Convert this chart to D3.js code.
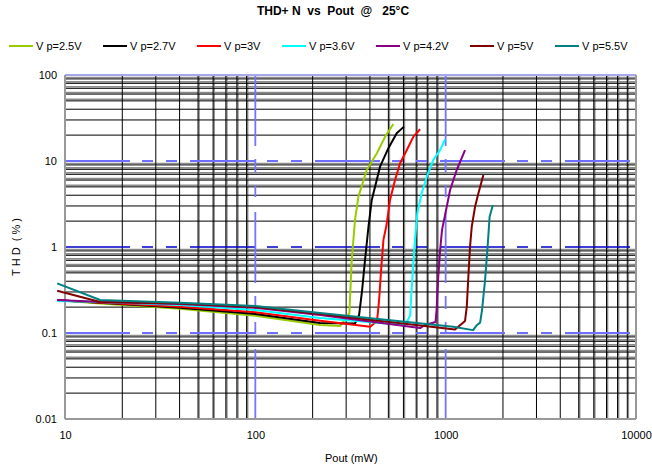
<!DOCTYPE html>
<html>
<head>
<meta charset="utf-8">
<script src="https://cdn.jsdelivr.net/npm/d3@7"></script>
<style>
  body { margin: 0; background: #fff; }
  text { font-family: "Liberation Sans", Arial, sans-serif; }
</style>
</head>
<body>
<svg id="chart" width="652" height="469"></svg>
<script>
// legend labels + colours
var labels = ['V p=2.5V', 'V p=2.7V', 'V p=3V', 'V p=3.6V', 'V p=4.2V', 'V p=5V', 'V p=5.5V'];
var colors = ['#99cc00', '#000000', '#ff0000', '#00ffff', '#880088', '#800000', '#008080'];

var xTicks = [10, 100, 1000, 10000];
var yTicks = [0.01, 0.1, 1, 10, 100];

// Pout (mW) / THD (%)
var pout25 = [9.1, 15.3, 40.2, 100, 219, 279, 312, 321, 334, 348, 385, 435, 481, 531];
var thd25  = [0.24, 0.22, 0.192, 0.159, 0.124, 0.121, 0.169, 0.706, 2.06, 3.85, 7.86, 12.3, 19.2, 26.9];

var pout27 = [9.1, 15.3, 40.2, 100, 219, 334, 351, 364, 377, 393, 409, 452, 500, 553, 604];
var thd27  = [0.24, 0.225, 0.197, 0.166, 0.131, 0.129, 0.162, 0.316, 0.706, 1.72, 3.52, 8.59, 14.1, 21.0, 25.1];

var pout30 = [9.1, 15.3, 40.2, 100, 219, 401, 436, 447, 458, 471, 489, 510, 542, 576, 625, 677, 734];
var thd30  = [0.24, 0.227, 0.202, 0.174, 0.139, 0.118, 0.138, 0.242, 0.54, 1.21, 1.8, 3.52, 6.01, 9.4, 13.4, 19.2, 23.4];

var pout36 = [9.1, 15.3, 40.2, 100, 219, 612, 650, 664, 678, 690, 710, 748, 796, 861, 935, 993];
var thd36  = [0.235, 0.229, 0.212, 0.185, 0.149, 0.124, 0.158, 0.345, 0.706, 1.21, 2.47, 4.21, 6.57, 10.3, 13.4, 17.9];

var pout42 = [9.1, 15.3, 40.2, 100, 219, 734, 780, 885, 896, 912, 935, 957, 993, 1055, 1143, 1264];
var thd42  = [0.242, 0.229, 0.217, 0.197, 0.162, 0.114, 0.124, 0.134, 0.185, 0.414, 0.92, 1.58, 2.36, 4.6, 7.86, 13.4];

var pout50 = [9.1, 15.3, 40.2, 100, 219, 1120, 1264, 1291, 1316, 1343, 1371, 1427, 1486, 1578];
var thd50  = [0.31, 0.229, 0.22, 0.2, 0.166, 0.11, 0.138, 0.202, 0.452, 1.01, 1.72, 2.94, 4.21, 6.88];

var pout55 = [9.1, 15.3, 40.2, 100, 219, 1094, 1393, 1462, 1517, 1553, 1611, 1656, 1702, 1770];
var thd55  = [0.378, 0.242, 0.225, 0.206, 0.171, 0.118, 0.108, 0.124, 0.132, 0.185, 0.414, 0.92, 2.25, 3.08];

var pouts = [pout25, pout27, pout30, pout36, pout42, pout50, pout55];
var thds  = [thd25, thd27, thd30, thd36, thd42, thd50, thd55];

var svg = d3.select('#chart');
svg.append('rect').attr('width', 652).attr('height', 469).attr('fill', '#fff');

var x = d3.scaleLog().domain([10, 10000]).range([65, 636]);
var y = d3.scaleLog().domain([0.01, 100]).range([419, 75]);

// minor grid values (2..9 of every decade)
var minorX = [], minorY = [];
[10, 100, 1000].forEach(function (d) {
  for (var k = 2; k <= 9; k++) minorX.push(d * k);
});
[0.01, 0.1, 1, 10].forEach(function (d) {
  for (var k = 2; k <= 9; k++) minorY.push(+(d * k).toPrecision(3));
});
var digit = function (v) { return Math.round(v / Math.pow(10, Math.floor(Math.log10(v) + 1e-9))); };

var grid = svg.append('g');
// grey heavier lines for 5..9
grid.selectAll('.gv').data(minorX.filter(function (d) { return digit(d) >= 5; }))
  .enter().append('line')
  .attr('x1', function (d) { return x(d) + 1; }).attr('x2', function (d) { return x(d) + 1; })
  .attr('y1', y(100)).attr('y2', y(0.01))
  .attr('stroke', '#8c8c8c').attr('stroke-width', 1.6);
grid.selectAll('.gh').data(minorY.filter(function (d) { return digit(d) >= 5; }))
  .enter().append('line')
  .attr('x1', x(10)).attr('x2', x(10000))
  .attr('y1', function (d) { return y(d) - 1.5; }).attr('y2', function (d) { return y(d) - 1.5; })
  .attr('stroke', '#8c8c8c').attr('stroke-width', 1.6);
// thin black lines
grid.selectAll('.bv').data(minorX).enter().append('line')
  .attr('x1', function (d) { return x(d); }).attr('x2', function (d) { return x(d); })
  .attr('y1', y(100)).attr('y2', y(0.01))
  .attr('stroke', '#000').attr('stroke-width', 1);
grid.selectAll('.bh').data(minorY).enter().append('line')
  .attr('x1', x(10)).attr('x2', x(10000))
  .attr('y1', function (d) { return y(d); }).attr('y2', function (d) { return y(d); })
  .attr('stroke', '#000').attr('stroke-width', 1);

// decade lines, blue dashed
grid.selectAll('.mh').data([0.1, 1, 10]).enter().append('line')
  .attr('x1', x(10)).attr('x2', x(10000))
  .attr('y1', function (d) { return y(d); }).attr('y2', function (d) { return y(d); })
  .attr('stroke', function (d) { return d === 1 ? '#0000cc' : '#6f6fff'; })
  .attr('stroke-width', function (d) { return d === 1 ? 1.5 : 2; })
  .attr('stroke-dasharray', '65,12,11,13,11,13');
grid.selectAll('.mv').data([100, 1000]).enter().append('line')
  .attr('x1', function (d) { return x(d); }).attr('x2', function (d) { return x(d); })
  .attr('y1', y(100)).attr('y2', y(0.01))
  .attr('stroke', '#7474ff').attr('stroke-width', 1.8)
  .attr('stroke-dasharray', '71,13,13,13,12,15');

// frame
grid.append('line').attr('x1', x(10)).attr('x2', x(10000)).attr('y1', y(100)).attr('y2', y(100))
  .attr('stroke', '#a8a8e8').attr('stroke-width', 2);
grid.append('line').attr('x1', x(10)).attr('x2', x(10000)).attr('y1', y(0.01)).attr('y2', y(0.01))
  .attr('stroke', '#999').attr('stroke-width', 2);
[10, 10000].forEach(function (d) {
  grid.append('line').attr('x1', x(d)).attr('x2', x(d)).attr('y1', y(100)).attr('y2', y(0.01))
    .attr('stroke', '#999').attr('stroke-width', 2);
});

// axes
var xAxis = svg.append('g').attr('transform', 'translate(0,' + y(0.01) + ')')
  .call(d3.axisBottom(x).tickValues(xTicks).tickFormat(d3.format('d')).tickSize(0).tickPadding(12));
var yAxis = svg.append('g').attr('transform', 'translate(' + x(10) + ',0)')
  .call(d3.axisLeft(y).tickValues(yTicks).tickFormat(function (d) { return String(d); }).tickSize(0).tickPadding(8));
[xAxis, yAxis].forEach(function (a) {
  a.select('.domain').remove();
  a.selectAll('text').attr('font-size', 11).attr('fill', '#000')
    .style('font-family', '"Liberation Sans", Arial, sans-serif');
});

// curves
var line = d3.line()
  .x(function (d) { return x(d[0]); })
  .y(function (d) { return y(d[1]); });
pouts.forEach(function (p, i) {
  svg.append('path')
    .datum(d3.zip(p, thds[i]))
    .attr('d', line)
    .attr('fill', 'none')
    .attr('stroke', colors[i])
    .attr('stroke-width', 2)
    .attr('stroke-linejoin', 'round');
});

// title + axis titles
svg.append('text').attr('x', 333).attr('y', 15).attr('text-anchor', 'middle')
  .attr('font-size', 12).attr('font-weight', 'bold').style('white-space', 'pre')
  .text('THD+ N  vs  Pout  @   25°C');
svg.append('text').attr('x', 325).attr('y', 462).attr('font-size', 11).text('Pout (mW)');
svg.append('text').attr('transform', 'translate(20,247) rotate(-90)').attr('text-anchor', 'middle')
  .attr('font-size', 11).style('white-space', 'pre').text('T H D  ( % )');

// legend
var legX = [9, 103, 197, 282, 376, 470, 555];
var leg = svg.append('g');
labels.forEach(function (t, i) {
  leg.append('line').attr('x1', legX[i]).attr('x2', legX[i] + 24).attr('y1', 46).attr('y2', 46)
    .attr('stroke', colors[i]).attr('stroke-width', 2);
  leg.append('text').attr('x', legX[i] + 27).attr('y', 50).attr('font-size', 11).text(t);
});
</script>
</body>
</html>
